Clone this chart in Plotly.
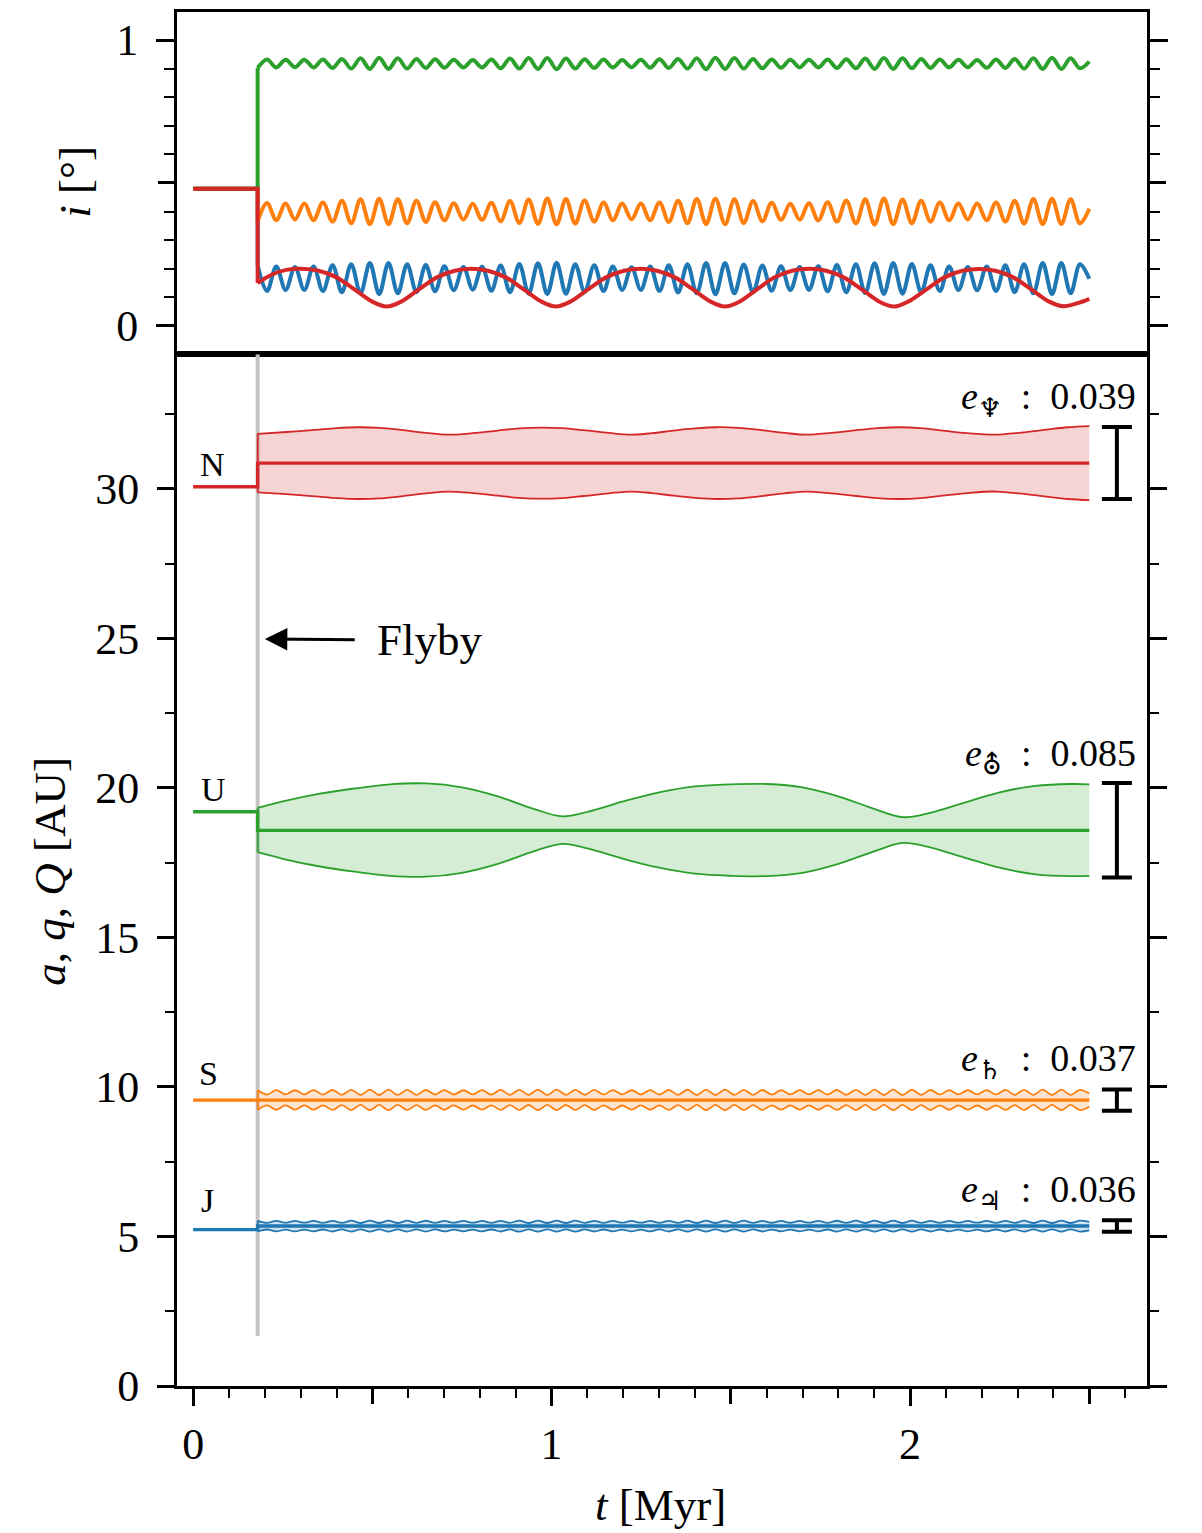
import plotly.graph_objects as go

# ---------------- data ----------------
t_flyby = 0.18
t_end = 2.5

# top panel: inclination i [deg]
i_pre = 0.48
t_fast = [0.180, 0.206, 0.232, 0.258, 0.284, 0.310, 0.336, 0.362, 0.389, 0.415,
          0.441, 0.467, 0.493, 0.519, 0.545, 0.571, 0.597, 0.623, 0.649, 0.675,
          0.701, 0.727, 0.754, 0.780, 0.806, 0.832, 0.858, 0.884, 0.910, 0.936,
          0.962, 0.988, 1.014, 1.040, 1.066, 1.092, 1.119, 1.145, 1.171, 1.197,
          1.223, 1.249, 1.275, 1.301, 1.327, 1.353, 1.379, 1.405, 1.431, 1.457,
          1.484, 1.510, 1.536, 1.562, 1.588, 1.614, 1.640, 1.666, 1.692, 1.718,
          1.744, 1.770, 1.796, 1.822, 1.849, 1.875, 1.901, 1.927, 1.953, 1.979,
          2.005, 2.031, 2.057, 2.083, 2.109, 2.135, 2.161, 2.187, 2.214, 2.240,
          2.266, 2.292, 2.318, 2.344, 2.370, 2.396, 2.422, 2.448, 2.474, 2.500]

i_jupiter = [0.212, 0.122, 0.208, 0.126, 0.206, 0.126, 0.208, 0.122, 0.212, 0.118, 0.216, 0.114, 0.220, 0.112, 0.220, 0.114, 0.216, 0.118,
             0.213, 0.121, 0.209, 0.125, 0.206, 0.127, 0.207, 0.123, 0.211, 0.118, 0.217, 0.113, 0.219, 0.112, 0.221, 0.113, 0.216, 0.119,
             0.212, 0.122, 0.208, 0.126, 0.205, 0.126, 0.208, 0.122, 0.212, 0.117, 0.216, 0.114, 0.220, 0.111, 0.220, 0.114, 0.215, 0.118,
             0.211, 0.123, 0.209, 0.125, 0.206, 0.126, 0.209, 0.121, 0.213, 0.118, 0.216, 0.115, 0.219, 0.112, 0.220, 0.113, 0.217, 0.118,
             0.212, 0.122, 0.208, 0.126, 0.206, 0.125, 0.208, 0.122, 0.212, 0.118, 0.216, 0.114, 0.220, 0.112, 0.220, 0.114, 0.216, 0.165]

i_saturn = [0.365, 0.430, 0.370, 0.428, 0.372, 0.428, 0.370, 0.432, 0.365, 0.438, 0.359, 0.443, 0.356, 0.445, 0.356, 0.443, 0.359, 0.438,
            0.364, 0.433, 0.369, 0.429, 0.372, 0.427, 0.371, 0.431, 0.366, 0.437, 0.360, 0.442, 0.357, 0.446, 0.355, 0.444, 0.358, 0.439,
            0.365, 0.432, 0.370, 0.428, 0.373, 0.428, 0.370, 0.432, 0.364, 0.438, 0.359, 0.444, 0.356, 0.445, 0.356, 0.443, 0.360, 0.437,
            0.366, 0.431, 0.371, 0.427, 0.372, 0.429, 0.369, 0.433, 0.365, 0.439, 0.359, 0.443, 0.355, 0.446, 0.356, 0.442, 0.359, 0.438,
            0.365, 0.432, 0.370, 0.428, 0.372, 0.428, 0.370, 0.432, 0.365, 0.438, 0.358, 0.444, 0.356, 0.445, 0.357, 0.443, 0.359, 0.410]

i_uranus = [0.902, 0.932, 0.904, 0.931, 0.905, 0.931, 0.904, 0.932, 0.902, 0.934, 0.900, 0.936, 0.899, 0.938, 0.899, 0.936, 0.900, 0.934,
            0.902, 0.933, 0.903, 0.931, 0.904, 0.930, 0.904, 0.932, 0.901, 0.935, 0.900, 0.937, 0.899, 0.937, 0.898, 0.935, 0.900, 0.933,
            0.902, 0.932, 0.904, 0.930, 0.905, 0.931, 0.903, 0.933, 0.902, 0.934, 0.900, 0.936, 0.898, 0.938, 0.899, 0.937, 0.900, 0.934,
            0.901, 0.932, 0.903, 0.931, 0.904, 0.931, 0.904, 0.932, 0.902, 0.933, 0.901, 0.935, 0.899, 0.937, 0.899, 0.936, 0.901, 0.934,
            0.902, 0.932, 0.904, 0.931, 0.905, 0.930, 0.903, 0.932, 0.902, 0.934, 0.900, 0.936, 0.899, 0.938, 0.899, 0.936, 0.901, 0.925]

t_neptune_i = [0.180, 0.220, 0.260, 0.304, 0.350, 0.400, 0.450, 0.500, 0.540,
               0.580, 0.630, 0.680, 0.730, 0.776, 0.822, 0.872, 0.922, 0.972, 1.012,
               1.052, 1.102, 1.152, 1.202, 1.248, 1.294, 1.344, 1.394, 1.444, 1.484,
               1.524, 1.574, 1.624, 1.674, 1.720, 1.766, 1.816, 1.866, 1.916, 1.956,
               1.996, 2.046, 2.096, 2.146, 2.192, 2.238, 2.288, 2.338, 2.388, 2.428,
               2.468, 2.500]
i_neptune = [0.150, 0.180, 0.196, 0.200, 0.193, 0.170, 0.128, 0.085, 0.068,
             0.085, 0.128, 0.170, 0.193, 0.200, 0.193, 0.170, 0.128, 0.085, 0.068,
             0.085, 0.128, 0.170, 0.193, 0.200, 0.193, 0.170, 0.128, 0.085, 0.068,
             0.085, 0.129, 0.171, 0.194, 0.200, 0.193, 0.169, 0.127, 0.084, 0.068,
             0.086, 0.128, 0.170, 0.193, 0.199, 0.193, 0.170, 0.128, 0.085, 0.069,
             0.080, 0.095]

# bottom panel: a, q, Q [AU]
planet_labels = ["J", "S", "U", "N"]
planet_symbols = ["\u2643", "\u2644", "\u26E2", "\u2646"]
a_pre = [5.23, 9.56, 19.20, 30.07]
a_post = [5.35, 9.56, 18.58, 30.86]
ecc_label = [0.036, 0.037, 0.085, 0.039]

Q_jupiter = [5.524, 5.457, 5.521, 5.460, 5.520, 5.460, 5.521, 5.457, 5.524, 5.454, 5.528, 5.451, 5.530, 5.450, 5.530, 5.451, 5.528, 5.454,
             5.525, 5.456, 5.521, 5.461, 5.519, 5.460, 5.522, 5.457, 5.523, 5.454, 5.529, 5.450, 5.530, 5.451, 5.529, 5.451, 5.528, 5.455,
             5.524, 5.457, 5.520, 5.460, 5.520, 5.461, 5.521, 5.456, 5.524, 5.453, 5.528, 5.451, 5.531, 5.450, 5.530, 5.452, 5.527, 5.454,
             5.523, 5.458, 5.521, 5.459, 5.520, 5.460, 5.521, 5.457, 5.525, 5.454, 5.528, 5.451, 5.530, 5.450, 5.531, 5.451, 5.528, 5.453,
             5.524, 5.457, 5.521, 5.460, 5.520, 5.460, 5.521, 5.457, 5.524, 5.454, 5.528, 5.451, 5.530, 5.450, 5.530, 5.451, 5.528, 5.490]
q_jupiter = [5.166, 5.233, 5.169, 5.230, 5.170, 5.230, 5.169, 5.233, 5.166, 5.236, 5.162, 5.239, 5.160, 5.240, 5.160, 5.239, 5.162, 5.236,
             5.165, 5.234, 5.169, 5.229, 5.171, 5.230, 5.168, 5.233, 5.167, 5.236, 5.161, 5.240, 5.160, 5.239, 5.161, 5.239, 5.162, 5.235,
             5.166, 5.233, 5.170, 5.230, 5.170, 5.229, 5.169, 5.234, 5.166, 5.237, 5.162, 5.239, 5.159, 5.240, 5.160, 5.238, 5.163, 5.236,
             5.167, 5.232, 5.169, 5.231, 5.170, 5.230, 5.169, 5.233, 5.165, 5.236, 5.162, 5.239, 5.160, 5.240, 5.159, 5.239, 5.162, 5.237,
             5.166, 5.233, 5.169, 5.230, 5.170, 5.230, 5.169, 5.233, 5.166, 5.236, 5.162, 5.239, 5.160, 5.240, 5.160, 5.239, 5.162, 5.200]

Q_saturn = [9.898, 9.745, 9.892, 9.749, 9.890, 9.749, 9.892, 9.745, 9.898, 9.738, 9.905, 9.732, 9.909, 9.730, 9.909, 9.732, 9.905, 9.738,
            9.897, 9.746, 9.893, 9.748, 9.889, 9.750, 9.891, 9.744, 9.899, 9.737, 9.904, 9.733, 9.910, 9.729, 9.908, 9.733, 9.904, 9.739,
            9.899, 9.744, 9.892, 9.750, 9.890, 9.748, 9.893, 9.745, 9.897, 9.738, 9.906, 9.731, 9.909, 9.730, 9.910, 9.732, 9.905, 9.737,
            9.898, 9.745, 9.891, 9.749, 9.891, 9.749, 9.892, 9.746, 9.898, 9.739, 9.905, 9.732, 9.908, 9.731, 9.909, 9.731, 9.906, 9.738,
            9.898, 9.745, 9.892, 9.749, 9.890, 9.750, 9.892, 9.745, 9.899, 9.738, 9.905, 9.732, 9.909, 9.730, 9.909, 9.732, 9.905, 9.780]
q_saturn = [9.232, 9.385, 9.238, 9.381, 9.240, 9.381, 9.238, 9.385, 9.232, 9.392, 9.225, 9.398, 9.221, 9.400, 9.221, 9.398, 9.225, 9.392,
            9.233, 9.384, 9.237, 9.382, 9.241, 9.380, 9.239, 9.386, 9.231, 9.393, 9.226, 9.397, 9.220, 9.401, 9.222, 9.397, 9.226, 9.391,
            9.231, 9.386, 9.238, 9.380, 9.240, 9.382, 9.237, 9.385, 9.233, 9.392, 9.224, 9.399, 9.221, 9.400, 9.220, 9.398, 9.225, 9.393,
            9.232, 9.385, 9.239, 9.381, 9.239, 9.381, 9.238, 9.384, 9.232, 9.391, 9.225, 9.398, 9.222, 9.399, 9.221, 9.399, 9.224, 9.392,
            9.232, 9.385, 9.238, 9.381, 9.240, 9.380, 9.238, 9.385, 9.231, 9.392, 9.225, 9.398, 9.221, 9.400, 9.221, 9.398, 9.225, 9.340]

t_uranus = [0.18, 0.25, 0.35, 0.45, 0.55, 0.65, 0.75, 0.85, 0.95, 1.03, 1.10, 1.20, 1.30,
            1.40, 1.50, 1.60, 1.70, 1.80, 1.90, 1.98, 2.05, 2.15, 2.25, 2.35, 2.45, 2.50]
Q_uranus = [19.33, 19.55, 19.80, 19.98, 20.12, 20.15, 20.02, 19.72, 19.30, 19.05, 19.20, 19.55, 19.85,
            20.05, 20.12, 20.13, 20.02, 19.72, 19.30, 19.02, 19.15, 19.50, 19.85, 20.07, 20.13, 20.12]
q_uranus = [17.85, 17.63, 17.38, 17.20, 17.06, 17.03, 17.16, 17.46, 17.88, 18.13, 17.98, 17.63, 17.33,
            17.13, 17.06, 17.05, 17.16, 17.46, 17.88, 18.16, 18.03, 17.68, 17.33, 17.11, 17.05, 17.06]

t_neptune = [0.18, 0.26, 0.34, 0.40, 0.46, 0.52, 0.58, 0.65, 0.71, 0.78, 0.85, 0.91, 0.97,
             1.03, 1.09, 1.16, 1.22, 1.28, 1.34, 1.40, 1.46, 1.52, 1.58, 1.65, 1.71, 1.78,
             1.85, 1.91, 1.97, 2.03, 2.09, 2.16, 2.24, 2.31, 2.38, 2.44, 2.50]
Q_neptune = [31.84, 31.90, 31.97, 32.03, 32.06, 32.04, 31.97, 31.87, 31.81, 31.86, 31.95, 32.02, 32.05,
             32.03, 31.96, 31.87, 31.81, 31.86, 31.95, 32.02, 32.06, 32.04, 31.97, 31.87, 31.81, 31.87,
             31.96, 32.03, 32.06, 32.03, 31.95, 31.86, 31.81, 31.88, 31.98, 32.06, 32.10]
q_neptune = [29.88, 29.82, 29.75, 29.69, 29.66, 29.68, 29.75, 29.85, 29.91, 29.86, 29.77, 29.70, 29.67,
             29.69, 29.76, 29.85, 29.91, 29.86, 29.77, 29.70, 29.66, 29.68, 29.75, 29.85, 29.91, 29.85,
             29.76, 29.69, 29.66, 29.69, 29.77, 29.86, 29.91, 29.84, 29.74, 29.66, 29.62]

# tick positions
x_major = [0, 1, 2]
x_half = [0.5, 1.5, 2.5]
i_major = [0, 1]
i_half = [0.5]
a_major = [0, 5, 10, 15, 20, 25, 30]

# ---------------- style ----------------
colors = ["#1f77b4", "#ff7f0e", "#2ca02c", "#d62728"]
fills = ["rgba(31,119,180,0.2)", "rgba(255,127,14,0.2)", "rgba(44,160,44,0.2)", "rgba(214,39,40,0.2)"]
FONT = "Liberation Serif, DejaVu Serif, serif"

fig = go.Figure()


def line(x, y, color, width, xa, ya, shape="linear", fill=None, fillcolor=None):
    fig.add_trace(go.Scatter(x=x, y=y, mode="lines",
                             line=dict(color=color, width=width, shape=shape),
                             fill=fill, fillcolor=fillcolor, xaxis=xa, yaxis=ya,
                             showlegend=False, hoverinfo="skip"))


# ---- top panel ----
top_series = [(t_fast, i_jupiter, colors[0]), (t_fast, i_saturn, colors[1]),
              (t_fast, i_uranus, colors[2]), (t_neptune_i, i_neptune, colors[3])]
for tx, iy, col in top_series:
    line([0, t_flyby, t_flyby], [i_pre, i_pre, iy[0]], col, 4, "x", "y")
    line(tx, iy, col, 4, "x", "y", shape="spline")

# ---- bottom panel ----
bounds = [(t_fast, Q_jupiter, q_jupiter), (t_fast, Q_saturn, q_saturn),
          (t_uranus, Q_uranus, q_uranus), (t_neptune, Q_neptune, q_neptune)]
for k, (tx, Qy, qy) in enumerate(bounds):
    col = colors[k]
    line(tx, qy, col, 1.8, "x2", "y2", shape="spline")
    line(tx, Qy, col, 1.8, "x2", "y2", shape="spline", fill="tonexty", fillcolor=fills[k])
    line([t_flyby, t_flyby], [qy[0], Qy[0]], col, 1.8, "x2", "y2")
    line([0, t_flyby, t_flyby, t_end], [a_pre[k], a_pre[k], a_post[k], a_post[k]], col, 3.4, "x2", "y2")

# eccentricity bars
fig.add_trace(go.Scatter(
    x=[2.577] * 4, y=a_post, mode="markers",
    marker=dict(size=1, color="rgba(0,0,0,0)"),
    error_y=dict(type="data", array=[a * e for a, e in zip(a_post, ecc_label)],
                 color="black", thickness=4, width=15),
    xaxis="x2", yaxis="y2", showlegend=False, hoverinfo="skip"))

# flyby marker line
fig.add_shape(type="line", xref="x2", yref="y2", x0=t_flyby, x1=t_flyby, y0=1.67, y1=34.5,
              line=dict(color="#c4c4c4", width=4), layer="below")

annotations = []
# planet letters
letter_pos = [(0.040, 6.2), (0.042, 10.45), (0.056, 19.95), (0.053, 30.8)]
for lab, (lx, ly) in zip(planet_labels, letter_pos):
    annotations.append(dict(x=lx, y=ly, xref="x2", yref="y2", text=lab, showarrow=False,
                            xanchor="center", yanchor="middle",
                            font=dict(family=FONT, size=34, color="black")))
# eccentricity labels
ecc_y = [6.5, 10.88, 21.05, 33.0]
for sym, ev, ey in zip(planet_symbols, ecc_label, ecc_y):
    annotations.append(dict(x=2.637, y=ey, xref="x2", yref="y2", xanchor="right", yanchor="middle",
                            text="<i>e</i><sub>%s</sub>\u2002:\u2002%.3f" % (sym, ev), showarrow=False,
                            font=dict(family=FONT, size=38, color="black")))
# flyby arrow + text
annotations.append(dict(x=0.20, y=24.98, xref="x2", yref="y2", ax=0.455, ay=24.95,
                        axref="x2", ayref="y2", text="", showarrow=True, arrowhead=2,
                        arrowsize=1.5, arrowwidth=3, arrowcolor="black", standoff=0))
annotations.append(dict(x=0.508, y=24.95, xref="x2", yref="y2", xanchor="left", yanchor="middle",
                        text="Flyby", showarrow=False, font=dict(family=FONT, size=45, color="black")))
# axis titles
annotations.append(dict(x=-0.105, y=0.8765, xref="paper", yref="paper", text="<i>i</i> [°]",
                        xanchor="center", yanchor="middle",
                        textangle=-90, showarrow=False, font=dict(family=FONT, size=45, color="black")))
annotations.append(dict(x=-0.131, y=0.375, xref="paper", yref="paper",
                        text="<i>a</i>, <i>q</i>, <i>Q</i> [AU]", textangle=-90, showarrow=False,
                        xanchor="center", yanchor="middle",
                        font=dict(family=FONT, size=45, color="black")))
annotations.append(dict(x=0.498, y=-0.0865, xref="paper", yref="paper", text="<i>t</i> [Myr]",
                        xanchor="center", yanchor="middle",
                        showarrow=False, font=dict(family=FONT, size=45, color="black")))

common = dict(showgrid=False, zeroline=False, showline=True, linecolor="black", linewidth=3,
              tickcolor="black", tickfont=dict(family=FONT, size=44, color="black"))
hidden = dict(showgrid=False, zeroline=False, showline=False, showticklabels=False,
              tickcolor="black", ticks="outside", tickwidth=2.5)
xr = [-0.045, 2.661]
ir = [-0.099, 1.098]
ar = [0, 34.5]
split = 0.7509
minor_style = dict(ticks="outside", tickwidth=2, tickcolor="black")

fig.update_layout(
    width=1194, height=1525,
    margin=dict(l=169, r=55, t=1, b=147),
    plot_bgcolor="white", paper_bgcolor="white",
    annotations=annotations,
    xaxis=dict(domain=[0, 1], anchor="y", range=xr, mirror=True, ticks="",
               showticklabels=False, **common),
    yaxis=dict(domain=[split, 1], anchor="x", range=ir, mirror="ticks",
               tickvals=i_major, ticks="outside", ticklen=18,
               tickwidth=2.5, ticklabelstandoff=9,
               minor=dict(dtick=0.1, tick0=0, ticklen=10, **minor_style), **common),
    yaxis3=dict(overlaying="y", anchor="x", side="left", range=ir, tickvals=i_half,
                ticklen=18, **hidden),
    yaxis4=dict(overlaying="y", anchor="x", side="right", range=ir, tickvals=i_half,
                ticklen=18, **hidden),
    xaxis2=dict(domain=[0, 1], anchor="y2", range=xr, mirror=True,
                tickvals=x_major, ticks="outside", ticklen=17, tickwidth=2.5,
                ticklabelstandoff=0,
                minor=dict(dtick=0.1, tick0=0, ticklen=9, **minor_style), **common),
    xaxis3=dict(overlaying="x2", anchor="y2", side="bottom", range=xr, tickvals=x_half,
                ticklen=17, **hidden),
    yaxis2=dict(domain=[0, split], anchor="x2", range=ar, mirror="ticks",
                tickvals=a_major, ticks="outside", ticklen=17,
                tickwidth=2.5, ticklabelstandoff=9,
                minor=dict(dtick=2.5, tick0=0, ticklen=9, **minor_style), **common),
)

# empty traces so the overlay tick axes are drawn
fig.add_trace(go.Scatter(x=[None], y=[None], xaxis="x", yaxis="y3", showlegend=False, hoverinfo="skip"))
fig.add_trace(go.Scatter(x=[None], y=[None], xaxis="x", yaxis="y4", showlegend=False, hoverinfo="skip"))
fig.add_trace(go.Scatter(x=[None], y=[None], xaxis="x3", yaxis="y2", showlegend=False, hoverinfo="skip"))

fig.write_html("out.html")
